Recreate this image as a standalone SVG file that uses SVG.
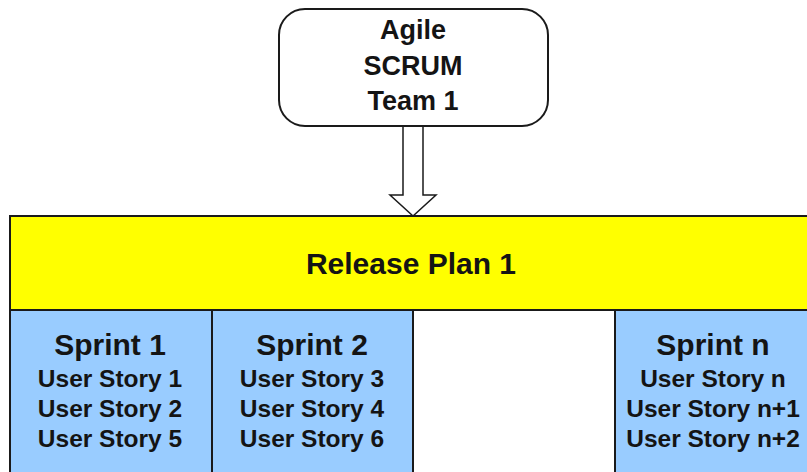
<svg xmlns="http://www.w3.org/2000/svg" width="807" height="472" viewBox="0 0 807 472">
<style>
text{font-family:"Liberation Sans",Arial,sans-serif;font-weight:bold;fill:#141414;text-anchor:middle}
.big{font-size:30px}
.team{font-size:27px}
.us{font-size:24.5px}
.box{stroke:#1a1a1a;stroke-width:2}
.sprint{fill:#99ccff}
</style>
<rect width="807" height="472" fill="#ffffff"/>
<g id="team">
<rect class="box" x="279" y="9" width="269" height="117" rx="26" ry="26" fill="#ffffff"/>
<text class="team" x="413" y="39">Agile</text>
<text class="team" x="413" y="75">SCRUM</text>
<text class="team" x="413" y="110">Team 1</text>
</g>
<g id="connectors">
<path d="M403,127 L403,195 L390,195 L413,216 L436,195 L423,195 L423,127" fill="#ffffff" stroke="#1a1a1a" stroke-width="1.5"/>
</g>
<g id="release">
<rect class="box" x="10" y="216" width="802" height="94" fill="#ffff00"/>
<text class="big" x="411" y="274">Release Plan 1</text>
</g>
<g id="sprint1">
<rect class="box sprint" x="10" y="310" width="202" height="170"/>
<text class="big" x="110" y="355">Sprint 1</text>
<text class="us" x="110" y="387">User Story 1</text>
<text class="us" x="110" y="417">User Story 2</text>
<text class="us" x="110" y="447">User Story 5</text>
</g>
<g id="sprint2">
<rect class="box sprint" x="212" y="310" width="201" height="170"/>
<text class="big" x="312" y="355">Sprint 2</text>
<text class="us" x="312" y="387">User Story 3</text>
<text class="us" x="312" y="417">User Story 4</text>
<text class="us" x="312" y="447">User Story 6</text>
</g>
<g id="sprintn">
<rect class="box sprint" x="615" y="310" width="200" height="170"/>
<text class="big" x="713" y="355">Sprint n</text>
<text class="us" x="713" y="387">User Story n</text>
<text class="us" x="713" y="417">User Story n+1</text>
<text class="us" x="713" y="447">User Story n+2</text>
</g>
</svg>
